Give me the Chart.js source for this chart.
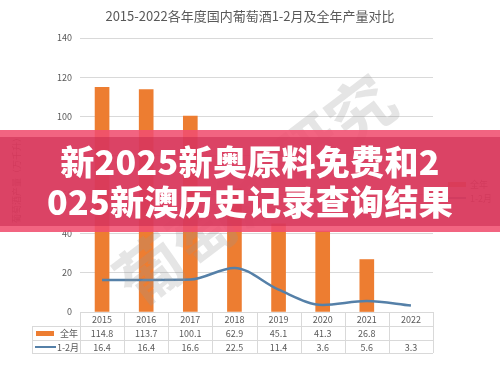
<!DOCTYPE html>
<html>
<head>
<meta charset="utf-8">
<script src="https://cdn.jsdelivr.net/npm/chart.js@4"></script>
<style>
  html, body { margin: 0; padding: 0; background: #fff; }
  #wrap { position: relative; width: 500px; height: 365px; overflow: hidden; }
  #banner {
    position: absolute; left: 0; top: 130px; width: 500px; height: 102px;
    background: rgba(240, 78, 112, 0.88);
  }
  #banner .inner {
    position: absolute; left: 0; top: 7px; width: 500px; height: 89px;
    background: rgba(200, 40, 78, 0.55);
  }
  #banner .txt {
    position: absolute; left: 0; top: 11px; width: 500px;
    text-align: center; color: #fff;
    font-family: "Noto Sans CJK SC", sans-serif; font-weight: 900;
    font-size: 34px; line-height: 40px; letter-spacing: 0.3px;
  }
</style>
</head>
<body>
<div id="wrap">
  <canvas id="chart" width="500" height="365"></canvas>
  <div id="banner"><div class="inner"></div>
    <div class="txt">新2025新奥原料免费和2<br>025新澳历史记录查询结果</div>
  </div>
</div>
<script>
const years = ['2015', '2016', '2017', '2018', '2019', '2020', '2021', '2022'];
const fullYear = [114.8, 113.7, 100.1, 62.9, 45.1, 41.3, 26.8, null];
const janFeb = [16.4, 16.4, 16.6, 22.5, 11.4, 3.6, 5.6, 3.3];
const yTicks = [0, 20, 40, 60, 80, 100, 120, 140];

const orange = '#ed7d31';
const blue = '#5580a8';
const textGray = '#595959';
const gridGray = '#d9d9d9';
const font = '"Microsoft YaHei", "Noto Sans CJK SC", sans-serif';

const tablePlugin = {
  id: 'tablePlugin',
  afterDraw(chart) {
    const ctx = chart.ctx;
    const x = chart.scales.x;
    const area = chart.chartArea;
    const colW = (area.right - area.left) / years.length;
    const top = area.bottom, r1 = top + 14, r2 = r1 + 14, r3 = r2 + 13;
    const left = 32;
    ctx.save();
    ctx.strokeStyle = gridGray;
    ctx.lineWidth = 1;
    ctx.beginPath();
    ctx.moveTo(area.left, top + 0.5); ctx.lineTo(area.right, top + 0.5);
    [r1, r2, r3].forEach(y => { ctx.moveTo(left, y + 0.5); ctx.lineTo(area.right, y + 0.5); });
    for (let i = 0; i <= years.length; i++) {
      const xx = Math.round(area.left + i * colW) + 0.5;
      ctx.moveTo(xx, top); ctx.lineTo(xx, r3);
    }
    ctx.moveTo(left + 0.5, r1); ctx.lineTo(left + 0.5, r3);
    ctx.stroke();

    ctx.fillStyle = textGray;
    ctx.font = '9px ' + font;
    ctx.textAlign = 'center';
    ctx.textBaseline = 'middle';
    years.forEach((yr, i) => {
      const cx = x.getPixelForValue(i);
      ctx.fillText(yr, cx, (top + r1) / 2 + 1);
      if (fullYear[i] !== null) ctx.fillText(fullYear[i].toFixed(1), cx, (r1 + r2) / 2 + 1);
      ctx.fillText(janFeb[i].toFixed(1), cx, (r2 + r3) / 2 + 1);
    });

    // legend keys inside the table
    ctx.fillStyle = orange;
    ctx.fillRect(36, (r1 + r2) / 2 - 2, 18, 5);
    ctx.strokeStyle = blue;
    ctx.lineWidth = 2;
    ctx.beginPath();
    ctx.moveTo(35, (r2 + r3) / 2 + 0.5); ctx.lineTo(56, (r2 + r3) / 2 + 0.5);
    ctx.stroke();
    ctx.fillStyle = textGray;
    ctx.textAlign = 'left';
    ctx.fillText('全年', 60, (r1 + r2) / 2 + 1);
    ctx.fillText('1-2月', 57, (r2 + r3) / 2 + 1);

    // right-hand legend
    ctx.fillStyle = orange;
    ctx.fillRect(448, 182, 18, 5);
    ctx.strokeStyle = blue;
    ctx.beginPath();
    ctx.moveTo(448, 198); ctx.lineTo(466, 198);
    ctx.stroke();
    ctx.fillStyle = textGray;
    ctx.fillText('全年', 470, 185);
    ctx.fillText('1-2月', 470, 199);

    // title and axis title
    ctx.textAlign = 'center';
    ctx.font = '13px ' + font;
    ctx.fillText('2015-2022各年度国内葡萄酒1-2月及全年产量对比', 250, 16);
    ctx.save();
    ctx.translate(17, 178);
    ctx.rotate(-Math.PI / 2);
    ctx.font = '9px ' + font;
    ctx.fillText('葡萄酒产量（万千升）', 0, 0);
    ctx.restore();

    // watermark
    ctx.save();
    ctx.translate(255, 190);
    ctx.rotate(-0.65);
    ctx.fillStyle = 'rgba(150,150,150,0.25)';
    ctx.font = 'bold 66px ' + font;
    ctx.fillText('葡萄酒研究', 0, 0);
    ctx.restore();
    ctx.restore();
  }
};

new Chart(document.getElementById('chart').getContext('2d'), {
  data: {
    labels: years,
    datasets: [
      {
        type: 'line', label: '1-2月', data: janFeb, order: 0,
        borderColor: blue, borderWidth: 2.5, cubicInterpolationMode: 'monotone',
        pointRadius: 0, fill: false
      },
      {
        type: 'bar', label: '全年', data: fullYear, order: 1,
        backgroundColor: orange, barThickness: 14
      }
    ]
  },
  options: {
    responsive: false,
    animation: false,
    layout: { padding: { left: 0, right: 67, top: 38, bottom: 53 } },
    plugins: { legend: { display: false }, title: { display: false }, tooltip: { enabled: false } },
    scales: {
      x: { display: false },
      y: {
        min: 0, max: 140,
        afterFit(scale) { scale.width = 80; },
        afterBuildTicks(scale) { scale.ticks = yTicks.map(v => ({ value: v })); },
        border: { display: false },
        grid: { color: gridGray, drawTicks: false },
        ticks: { color: textGray, font: { size: 9, family: font }, padding: 8 }
      }
    }
  },
  plugins: [tablePlugin]
});
</script>
</body>
</html>
